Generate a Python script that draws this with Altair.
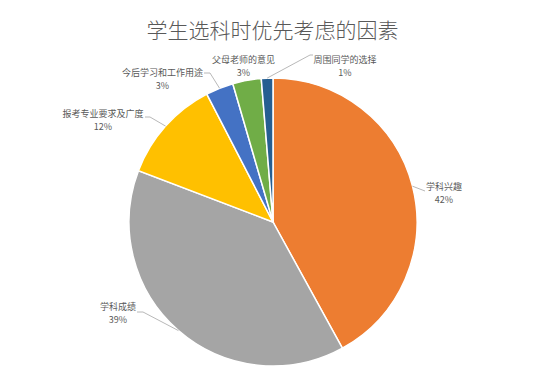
import math
import altair as alt
import pandas as pd

# ---- data ----
categories = ["学科兴趣", "学科成绩", "报考专业要求及广度", "今后学习和工作用途", "父母老师的意见", "周围同学的选择"]
values = [42.0, 38.8, 11.6, 3.1, 3.2, 1.3]
pct_labels = ["42%", "39%", "12%", "3%", "3%", "1%"]
colors = ["#ED7D31", "#A5A5A5", "#FFC000", "#4472C4", "#70AD47", "#255E91"]
title_text = "学生选科时优先考虑的因素"

# ---- layout ----
FONT = "Noto Sans CJK SC"
W, H, PAD_TOP = 543, 328, 48
CX, CY, R = 265, 166, 144
# label centres (view coords)
label_pos = [(436, 137), (110, 257), (95, 64), (154.5, 22.5), (235.5, 9.5), (337, 9.5)]
# label-side points of leader lines (view coords); None = no leader
leader_pts = [
    [(417, 135)],
    [(129, 256), (135, 256)],
    [(137, 61), (142, 61)],
    [(196, 17), (202, 17)],
    None,
    [(305, -1), (302, -1)],
]

total = sum(values)
df = pd.DataFrame({"category": categories, "value": values, "idx": list(range(len(values))),
                   "pct": pct_labels,
                   "lx": [p[0] for p in label_pos], "ly": [p[1] for p in label_pos]})

rows = []
cum = 0.0
for i, v in enumerate(values):
    mid = (cum + v / 2) / total * 2 * math.pi
    cum += v
    pts = leader_pts[i]
    if pts is None:
        continue
    ex, ey = CX + R * math.sin(mid), CY - R * math.cos(mid)
    seq = list(pts) + [(ex, ey)]
    for k, (x, y) in enumerate(seq):
        rows.append({"cat": categories[i], "o": k, "x": x, "y": y})
lines_df = pd.DataFrame(rows)

arc = alt.Chart(df).mark_arc(outerRadius=R, stroke="white", strokeWidth=1.5).encode(
    theta=alt.Theta("value:Q", stack=True),
    color=alt.Color("category:N", scale=alt.Scale(domain=categories, range=colors), legend=None),
    order=alt.Order("idx:Q"),
    x=alt.value(CX),
    y=alt.value(CY),
)

leaders = alt.Chart(lines_df).mark_line(stroke="#A6A6A6", strokeWidth=0.8).encode(
    x=alt.X("x:Q", scale=None, axis=None),
    y=alt.Y("y:Q", scale=None, axis=None),
    detail="cat:N",
    order="o:Q",
)

names = alt.Chart(df).mark_text(font=FONT, fontSize=9, color="#595959", dy=-6).encode(
    x=alt.X("lx:Q", scale=None, axis=None),
    y=alt.Y("ly:Q", scale=None, axis=None),
    text="category:N",
)
pcts = alt.Chart(df).mark_text(font=FONT, fontSize=9, color="#595959", dy=7).encode(
    x=alt.X("lx:Q", scale=None, axis=None),
    y=alt.Y("ly:Q", scale=None, axis=None),
    text="pct:N",
)

chart = alt.layer(arc, leaders, names, pcts).properties(
    width=W, height=H,
    padding={"left": 0, "top": PAD_TOP, "right": 0, "bottom": 0},
    autosize="none",
    background="white",
    title=alt.Title(title_text, fontSize=21, color="#595959", font=FONT, fontWeight=300,
                    anchor="middle", offset=11, dx=-7),
).configure_view(stroke=None)

chart.save("out.html", embed_options={"renderer": "svg", "actions": False})
